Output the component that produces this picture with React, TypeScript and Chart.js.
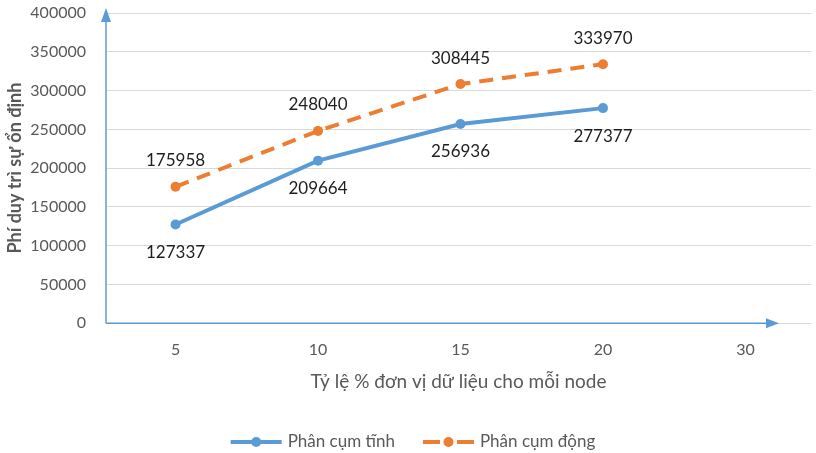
import React, { useEffect, useRef } from "react";
import { Chart, registerables } from "chart.js";

Chart.register(...registerables);

const categories = ["5", "10", "15", "20", "30"];
const staticCluster = [127337, 209664, 256936, 277377, null];
const dynamicCluster = [175958, 248040, 308445, 333970, null];
const seriesNames = ["Phân cụm tĩnh", "Phân cụm động"];
const yTitle = "Phí duy trì sự ổn định";
const xTitle = "Tỷ lệ % đơn vị dữ liệu cho mỗi node";

const FONT = "Lato, 'Open Sans', sans-serif";
const BLUE = "#5B9BD5";
const ORANGE = "#ED7D31";
const GRAY_TEXT = "#595959";

const axisArrows = {
  id: "axisArrows",
  afterDatasetsDraw(chart: any) {
    const { ctx, chartArea } = chart;
    const { left, top, bottom, right } = chartArea;
    ctx.save();
    ctx.strokeStyle = BLUE;
    ctx.fillStyle = BLUE;
    ctx.lineWidth = 1.5;
    // y axis
    ctx.beginPath();
    ctx.moveTo(left, bottom);
    ctx.lineTo(left, top + 6);
    ctx.stroke();
    ctx.beginPath();
    ctx.moveTo(left, top - 5);
    ctx.lineTo(left - 5, top + 9);
    ctx.lineTo(left + 5, top + 9);
    ctx.closePath();
    ctx.fill();
    // x axis
    const tip = right - 32;
    ctx.beginPath();
    ctx.moveTo(left, bottom);
    ctx.lineTo(tip - 8, bottom);
    ctx.stroke();
    ctx.beginPath();
    ctx.moveTo(tip, bottom);
    ctx.lineTo(tip - 13, bottom - 5);
    ctx.lineTo(tip - 13, bottom + 5);
    ctx.closePath();
    ctx.fill();
    ctx.restore();
  },
};

const dataLabels = {
  id: "dataLabels",
  afterDatasetsDraw(chart: any) {
    const { ctx } = chart;
    ctx.save();
    ctx.font = `17px ${FONT}`;
    ctx.fillStyle = "#1e1e1e";
    ctx.textAlign = "center";
    ctx.textBaseline = "middle";
    chart.data.datasets.forEach((ds: any, i: number) => {
      const meta = chart.getDatasetMeta(i);
      meta.data.forEach((pt: any, j: number) => {
        const d = ds.data[j];
        const v = d && typeof d === "object" ? d.y : d;
        if (v == null) return;
        ctx.fillText(String(v), pt.x, pt.y + ds.labelOffset);
      });
    });
    ctx.restore();
  },
};

const customLegend = {
  id: "customLegend",
  afterDraw(chart: any) {
    const { ctx, width } = chart;
    const y = 442;
    const lineLen = 51;
    const gapText = 6;
    const gapItems = 28;
    ctx.save();
    ctx.font = `17px ${FONT}`;
    const items = chart.data.datasets.map((ds: any) => ({
      ds,
      w: ctx.measureText(ds.label).width,
    }));
    let total = 0;
    items.forEach((it: any, i: number) => {
      total += lineLen + gapText + it.w + (i < items.length - 1 ? gapItems : 0);
    });
    let x = width / 2 + 5 - total / 2;
    items.forEach((it: any) => {
      const ds = it.ds;
      const dashed = ds.borderDash && ds.borderDash.length;
      ctx.strokeStyle = ds.borderColor;
      ctx.lineWidth = ds.borderWidth;
      ctx.setLineDash([]);
      ctx.beginPath();
      if (dashed) {
        ctx.moveTo(x, y);
        ctx.lineTo(x + 17, y);
        ctx.moveTo(x + lineLen - 17, y);
        ctx.lineTo(x + lineLen, y);
      } else {
        ctx.moveTo(x, y);
        ctx.lineTo(x + lineLen, y);
      }
      ctx.stroke();
      ctx.fillStyle = ds.backgroundColor;
      ctx.beginPath();
      ctx.arc(x + lineLen / 2, y, 5, 0, Math.PI * 2);
      ctx.fill();
      ctx.fillStyle = GRAY_TEXT;
      ctx.textAlign = "left";
      ctx.textBaseline = "middle";
      ctx.fillText(ds.label, x + lineLen + gapText, y);
      x += lineLen + gapText + it.w + gapItems;
    });
    ctx.restore();
  },
};

export default function App() {
  const ref = useRef<HTMLCanvasElement>(null);
  useEffect(() => {
    document.body.style.margin = "0";
    const idx = categories.map((_, i) => i);
    const chart = new Chart(ref.current!, {
      type: "line",
      data: {
        datasets: [
          {
            label: seriesNames[0],
            data: staticCluster.map((v, i) => ({ x: idx[i], y: v })) as any,
            borderColor: BLUE,
            backgroundColor: BLUE,
            borderWidth: 4,
            pointRadius: 5,
            pointHoverRadius: 5,
            pointBackgroundColor: BLUE,
            pointBorderColor: BLUE,
            pointBorderWidth: 0,
            labelOffset: 28,
          } as any,
          {
            label: seriesNames[1],
            data: dynamicCluster.map((v, i) => ({ x: idx[i], y: v })) as any,
            borderColor: ORANGE,
            backgroundColor: ORANGE,
            borderWidth: 4,
            borderDash: [14, 9],
            pointRadius: 5,
            pointHoverRadius: 5,
            pointBackgroundColor: ORANGE,
            pointBorderColor: ORANGE,
            pointBorderWidth: 0,
            labelOffset: -26,
          } as any,
        ],
      },
      options: {
        animation: false,
        responsive: false,
        devicePixelRatio: 1,
        layout: { padding: { top: 13, right: 0, bottom: 60, left: 0 } },
        plugins: {
          legend: { display: false },
          tooltip: { enabled: false },
        },
        scales: {
          x: {
            type: "linear",
            min: -0.488,
            max: 4.46,
            grid: { display: false, drawTicks: false },
            border: { display: false },
            afterBuildTicks: (scale: any) => {
              scale.ticks = idx.map((v) => ({ value: v }));
            },
            afterFit: (scale: any) => {
              scale.height = 69.7;
              scale.paddingLeft = 0;
              scale.paddingRight = 0;
            },
            ticks: {
              padding: 17,
              autoSkip: false,
              maxRotation: 0,
              color: GRAY_TEXT,
              font: { family: FONT, size: 16 },
              callback: (v: any) => categories[v as number] ?? "",
            },
            title: {
              display: true,
              text: xTitle,
              color: GRAY_TEXT,
              font: { family: FONT, size: 19 },
              padding: { top: 0, bottom: 0 },
            },
          },
          y: {
            min: 0,
            max: 400000,
            grid: { color: "#D9D9D9", lineWidth: 1, drawTicks: false },
            border: { display: false },
            afterFit: (scale: any) => {
              scale.width = 106;
              scale.paddingTop = 0;
              scale.paddingBottom = 0;
            },
            ticks: {
              stepSize: 50000,
              padding: 20,
              color: GRAY_TEXT,
              font: { family: FONT, size: 16 },
              callback: (v: any) => String(v),
            },
            title: {
              display: true,
              text: yTitle,
              color: GRAY_TEXT,
              font: { family: FONT, size: 18, weight: "bold" },
              padding: { top: 4, bottom: 0 },
            },
          },
        },
      },
      plugins: [axisArrows, dataLabels, customLegend],
    });
    return () => chart.destroy();
  }, []);
  return <canvas ref={ref} width={816} height={453} style={{ display: "block" }} />;
}
